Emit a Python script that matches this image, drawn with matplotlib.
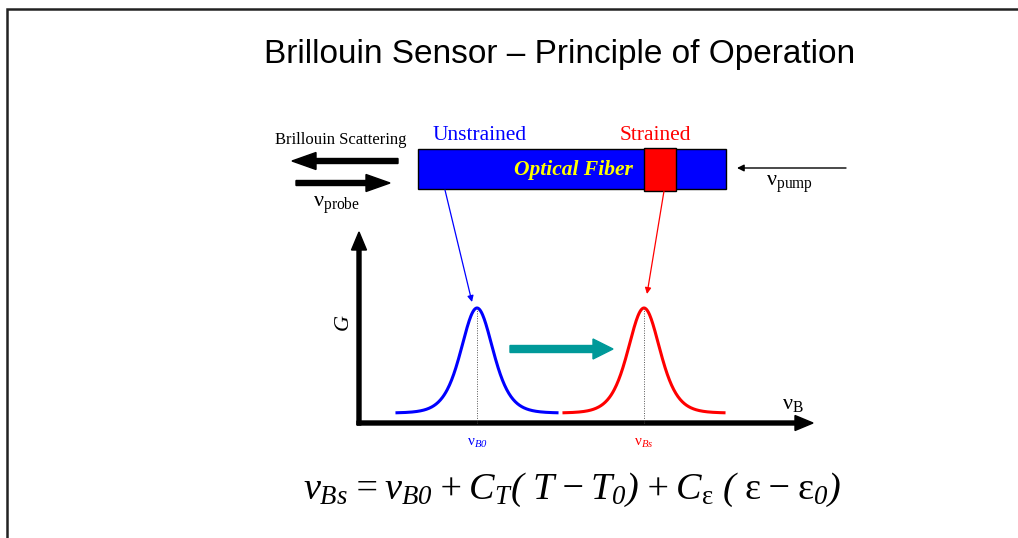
import numpy as np
import matplotlib
matplotlib.use("Agg")
import matplotlib.pyplot as plt
from matplotlib.patches import Rectangle

plt.rcParams['mathtext.fontset'] = 'custom'
plt.rcParams['mathtext.rm'] = 'Liberation Serif:italic'
plt.rcParams['mathtext.it'] = 'Liberation Serif:italic'
plt.rcParams['mathtext.sf'] = 'Liberation Serif'

# diagram values (pixel space of the slide)
peak_names = ['B0', 'Bs']
peak_centers = [477, 644]
peak_colors = ['blue', 'red']
peak_top = 308
peak_base = 413
peak_width = 21.5
peak_span = 80

fiber = (418, 149, 308, 40)        # x, y, w, h
strain_block = (644, 148, 32, 43)

fig = plt.figure(figsize=(10.18, 5.38), dpi=100)
ax = fig.add_axes([0, 0, 1, 1])
ax.set_xlim(0, 1018)
ax.set_ylim(538, 0)
ax.axis('off')

# slide frame
ax.plot([7.5, 7.5, 1018], [538, 9, 9], color='#222222', lw=1.8, solid_joinstyle='miter')

ax.text(560, 55, 'Brillouin Sensor – Principle of Operation', fontsize=24,
        family='Liberation Sans', ha='center', va='center')

# fiber
ax.add_patch(Rectangle(fiber[:2], fiber[2], fiber[3], fc='#0000FF', ec='k', lw=1))
ax.add_patch(Rectangle(strain_block[:2], strain_block[2], strain_block[3], fc='#FF0000', ec='k', lw=1))
ax.text(573, 170, 'Optical Fiber', fontsize=15.5, family='Liberation Serif',
        weight='bold', style='italic', color='#FFFF00', ha='center', va='center')
ax.text(480, 135, 'Unstrained', fontsize=15.5, family='Liberation Serif', color='blue',
        ha='center', va='center')
ax.text(655, 135, 'Strained', fontsize=15.5, family='Liberation Serif', color='red',
        ha='center', va='center')
ax.text(341, 140, 'Brillouin Scattering', fontsize=12, family='Liberation Serif',
        ha='center', va='center')

# probe / scattering arrows
ax.arrow(398, 161, -106, 0, width=5, head_width=17, head_length=24,
         length_includes_head=True, color='k')
ax.arrow(296, 183, 94, 0, width=5, head_width=17, head_length=24,
         length_includes_head=True, color='k')
ax.text(337, 205, r'$\mathsf{\nu}_{\mathsf{probe}}$', fontsize=16, ha='center', va='center')

# pump arrow
ax.annotate('', xy=(737, 168), xytext=(846, 168),
            arrowprops=dict(arrowstyle='-|>', lw=1, color='k', mutation_scale=10,
                            shrinkA=0, shrinkB=0))
ax.text(790, 184, r'$\mathsf{\nu}_{\mathsf{pump}}$', fontsize=16, ha='center', va='center')

# pointers from fiber to peaks
ax.annotate('', xy=(472, 302), xytext=(445, 190),
            arrowprops=dict(arrowstyle='-|>', lw=0.9, color='blue', mutation_scale=9,
                            shrinkA=0, shrinkB=0))
ax.annotate('', xy=(647, 294), xytext=(664, 191),
            arrowprops=dict(arrowstyle='-|>', lw=0.9, color='red', mutation_scale=9,
                            shrinkA=0, shrinkB=0))

# gain axes
ax.arrow(359, 425, 0, -193, width=4, head_width=15, head_length=18,
         length_includes_head=True, color='k')
ax.arrow(357, 423, 456, 0, width=4, head_width=15, head_length=18,
         length_includes_head=True, color='k')
ax.text(343, 322, 'G', fontsize=16, family='Liberation Serif', style='italic',
        rotation=90, ha='center', va='center')
ax.text(793, 404, r'$\mathsf{\nu}_{\mathsf{B}}$', fontsize=16, ha='center', va='center')

# Brillouin gain peaks
for name, c, col in zip(peak_names, peak_centers, peak_colors):
    x = np.linspace(c - peak_span, c + peak_span, 300)
    y = peak_base - (peak_base - peak_top) / np.cosh((x - c) / peak_width) ** 2
    ax.plot(x, y, color=col, lw=2.2)
    ax.plot([c, c], [peak_top, 423], color='#555555', lw=0.7, ls=(0, (1, 1.5)))
    ax.text(c, 443, r'$\mathsf{\nu}_{%s}$' % name, fontsize=11, color=col,
            ha='center', va='center')

# frequency shift arrow
ax.arrow(510, 349, 103, 0, width=7, head_width=20, head_length=20,
         length_includes_head=True, color='#009999')

# equation
ax.text(572, 490, r'$\nu_{Bs}= \nu_{B0}+C_T(\ T-T_0)+C_{\mathsf{ε}}\ (\ \mathsf{ε}-\mathsf{ε}_0)$',
        fontsize=27.5, ha='center', va='center')

fig.savefig('out.png', dpi=100)
